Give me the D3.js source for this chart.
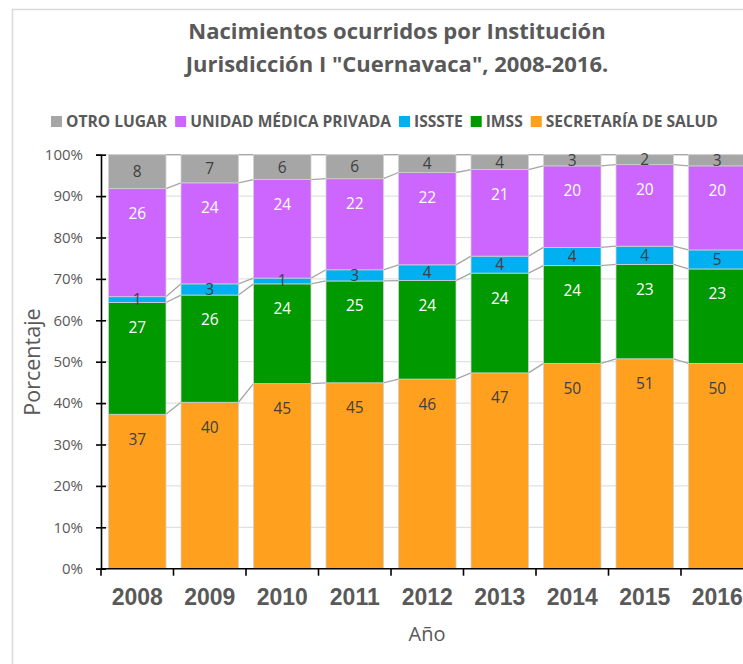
<!DOCTYPE html>
<html>
<head>
<meta charset="utf-8">
<script src="https://cdn.jsdelivr.net/npm/d3@7"></script>
<style>
  body { margin: 0; background: #fff; }
  text { font-family: 'Open Sans', 'Noto Sans', sans-serif; }
</style>
</head>
<body>
<svg id="chart" width="743" height="664"></svg>
<script>
// datos (porcentaje por institucion)
const years = ['2008', '2009', '2010', '2011', '2012', '2013', '2014', '2015', '2016'];
const secretaria = [37.3, 40.2, 44.7, 44.9, 45.8, 47.3, 49.6, 50.7, 49.6];
const imss       = [27.0, 25.9, 24.1, 24.6, 23.8, 24.1, 23.6, 22.8, 22.8];
const issste     = [1.4, 2.7, 1.4, 2.7, 3.8, 4.1, 4.4, 4.4, 4.6];
const privada    = [26.1, 24.4, 23.8, 22.0, 22.3, 20.9, 19.7, 19.7, 20.3];
const otro       = [8.2, 6.8, 6.0, 5.8, 4.3, 3.6, 2.7, 2.4, 2.7];

const seriesNames = ['SECRETARÍA DE SALUD', 'IMSS', 'ISSSTE', 'UNIDAD MÉDICA PRIVADA', 'OTRO LUGAR'];
const seriesValues = [secretaria, imss, issste, privada, otro];
const seriesColors = ['#ffa01f', '#009900', '#00b0f0', '#cc66ff', '#a6a6a6'];
const labelColors = ['#404040', '#ffffff', '#404040', '#ffffff', '#404040'];
const yTicks = [0, 0.1, 0.2, 0.3, 0.4, 0.5, 0.6, 0.7, 0.8, 0.9, 1];

const rows = years.map((y, i) => {
  const r = {year: y};
  seriesNames.forEach((s, k) => r[s] = seriesValues[k][i]);
  return r;
});

const svg = d3.select('#chart');
const grey = '#595959';

// borde del area del grafico
svg.append('rect')
  .attr('x', 12.5).attr('y', 9.5)
  .attr('width', 800).attr('height', 700)
  .attr('fill', 'none')
  .attr('stroke', '#d9d9d9')
  .attr('stroke-width', 1.5);

const x = d3.scaleBand().domain(years).range([101, 753.5])
  .paddingInner(0.207).paddingOuter(0.1035);
const y = d3.scaleLinear().domain([0, 1]).range([568.7, 154.7]);

const stack = d3.stack().keys(seriesNames).offset(d3.stackOffsetExpand);
const stacked = stack(rows);

// lineas de division
svg.append('g').selectAll('line')
  .data(yTicks.filter(t => t > 0))
  .join('line')
  .attr('x1', 101).attr('x2', 760)
  .attr('y1', d => y(d)).attr('y2', d => y(d))
  .attr('stroke', '#d9d9d9').attr('stroke-width', 1);

// lineas de serie entre barras
const seriesLines = svg.append('g');
stacked.forEach(layer => {
  for (let i = 0; i < years.length - 1; i++) {
    seriesLines.append('line')
      .attr('x1', x(years[i]) + x.bandwidth())
      .attr('x2', x(years[i + 1]))
      .attr('y1', y(layer[i][1]))
      .attr('y2', y(layer[i + 1][1]))
      .attr('stroke', '#a6a6a6')
      .attr('stroke-width', 1.3);
  }
});

// barras
stacked.forEach((layer, k) => {
  svg.append('g')
    .selectAll('rect')
    .data(layer)
    .join('rect')
    .attr('x', d => x(d.data.year))
    .attr('width', x.bandwidth())
    .attr('y', d => y(d[1]))
    .attr('height', d => y(d[0]) - y(d[1]))
    .attr('fill', seriesColors[k])
    .attr('stroke', '#d0d0d0')
    .attr('stroke-width', 0.8);
});

// etiquetas de datos
stacked.forEach((layer, k) => {
  svg.append('g')
    .selectAll('text')
    .data(layer)
    .join('text')
    .attr('x', d => x(d.data.year) + x.bandwidth() / 2)
    .attr('y', d => {
      const top = y(d[1]), h = y(d[0]) - y(d[1]);
      return top + Math.min(h / 2, 25);
    })
    .attr('dy', '0.35em')
    .attr('text-anchor', 'middle')
    .attr('font-size', 15.5)
    .attr('fill', labelColors[k])
    .text(d => Math.round(d.data[layer.key]));
});

// eje Y
const yAxis = svg.append('g')
  .attr('transform', 'translate(101,0)')
  .call(d3.axisLeft(y).tickValues(yTicks).tickFormat(d3.format('.0%')).tickSize(5).tickPadding(13));
yAxis.select('.domain').attr('stroke', '#000').attr('stroke-width', 1.6);
yAxis.selectAll('.tick line').attr('x1', 5).attr('x2', -5).attr('stroke', '#000').attr('stroke-width', 1.6);
yAxis.selectAll('.tick text').attr('fill', grey).attr('font-size', 15)
  .style('font-family', "'Open Sans', sans-serif");

// eje X
const xAxis = svg.append('g').attr('transform', 'translate(0,568.7)');
xAxis.append('line')
  .attr('x1', 101).attr('x2', 760)
  .attr('stroke', '#000').attr('stroke-width', 1.6);
const half = (x.step() - x.bandwidth()) / 2;
xAxis.selectAll('line.tk')
  .data(years)
  .join('line')
  .attr('class', 'tk')
  .attr('x1', d => x(d) - half).attr('x2', d => x(d) - half)
  .attr('y1', 0).attr('y2', 7)
  .attr('stroke', '#000').attr('stroke-width', 1.6);
xAxis.selectAll('text')
  .data(years)
  .join('text')
  .attr('x', d => x(d) + x.bandwidth() / 2)
  .attr('y', 36.5)
  .attr('text-anchor', 'middle')
  .attr('font-size', 23)
  .attr('font-weight', 'bold')
  .attr('fill', grey)
  .style('font-family', "'Liberation Sans', Arial, sans-serif")
  .text(d => d);

// titulos de ejes
svg.append('text')
  .attr('x', 427).attr('y', 641)
  .attr('text-anchor', 'middle')
  .attr('font-size', 20)
  .attr('fill', grey)
  .text('Año');

svg.append('text')
  .attr('transform', 'translate(40,362) rotate(-90)')
  .attr('text-anchor', 'middle')
  .attr('font-size', 21.5)
  .attr('fill', grey)
  .text('Porcentaje');

// titulo
const title = svg.append('text')
  .attr('text-anchor', 'middle')
  .attr('font-size', 22)
  .attr('font-weight', 'bold')
  .attr('fill', grey);
title.append('tspan').attr('x', 397).attr('y', 39).text('Nacimientos ocurridos por Institución');
title.append('tspan').attr('x', 397).attr('y', 72).text('Jurisdicción I "Cuernavaca", 2008-2016.');

// leyenda
const legend = svg.append('g').attr('transform', 'translate(51,0)');
let lx = 0;
seriesNames.slice().reverse().forEach((name, i) => {
  const k = seriesNames.length - 1 - i;
  legend.append('rect')
    .attr('x', lx).attr('y', 116)
    .attr('width', 11).attr('height', 11)
    .attr('fill', seriesColors[k]);
  const t = legend.append('text')
    .attr('x', lx + 15).attr('y', 127)
    .attr('font-size', 15.6)
    .attr('font-weight', 'bold')
    .attr('fill', grey)
    .text(name);
  lx += 15 + t.node().getComputedTextLength() + 8;
});
</script>
</body>
</html>
